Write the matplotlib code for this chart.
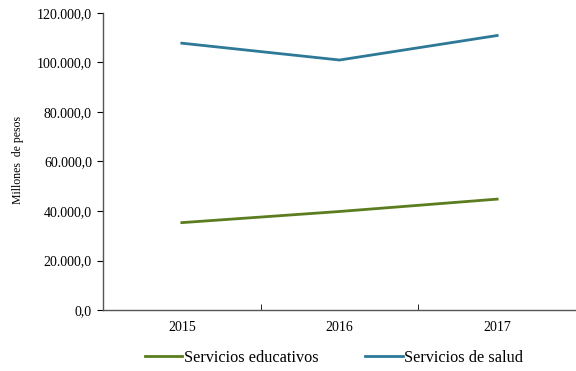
import matplotlib
matplotlib.use("Agg")
import matplotlib.pyplot as plt
from matplotlib.ticker import FuncFormatter

years = ["2015", "2016", "2017"]
educativos = [35300, 39800, 44800]
salud = [107800, 101000, 110900]

plt.rcParams["font.family"] = ["Liberation Serif", "DejaVu Serif"]

fig = plt.figure(figsize=(5.76, 3.71), dpi=100)
ax = fig.add_axes([0.1788, 0.1644, 0.8212, 0.8006])

x = list(range(len(years)))
ax.plot(x, educativos, color="#5b7d1f", lw=2.0, label="Servicios educativos")
ax.plot(x, salud, color="#2e7898", lw=2.0, label="Servicios de salud")

ax.set_xlim(-0.5, 2.456)
ax.set_ylim(0, 120000)
ax.set_yticks(range(0, 120001, 20000))
ax.yaxis.set_major_formatter(FuncFormatter(
    lambda v, p: f"{v:,.1f}".replace(",", "X").replace(".", ",").replace("X", ".")))
ax.set_xticks(x)
ax.set_xticklabels(years)
ax.set_xticks([-0.5, 0.5, 1.5, 2.5], minor=True)
ax.tick_params(axis="x", which="major", length=0, labelsize=10, pad=8)
ax.tick_params(axis="x", which="minor", length=4, direction="in")
ax.tick_params(axis="y", length=4, direction="out", labelsize=10, pad=4)

for s in ["top", "right"]:
    ax.spines[s].set_visible(False)
for s in ["left", "bottom"]:
    ax.spines[s].set_color("#555555")
    ax.spines[s].set_linewidth(1.0)

fig.text(0.031, 0.57, "Millones  de pesos", rotation=90, ha="center", va="center", fontsize=8.5)

fig.legend(loc="center", bbox_to_anchor=(0.58, 0.035), ncol=2, frameon=False,
           fontsize=11.7, handlelength=2.3, handletextpad=0.1, columnspacing=2.9)

fig.savefig("out.png", dpi=100)
